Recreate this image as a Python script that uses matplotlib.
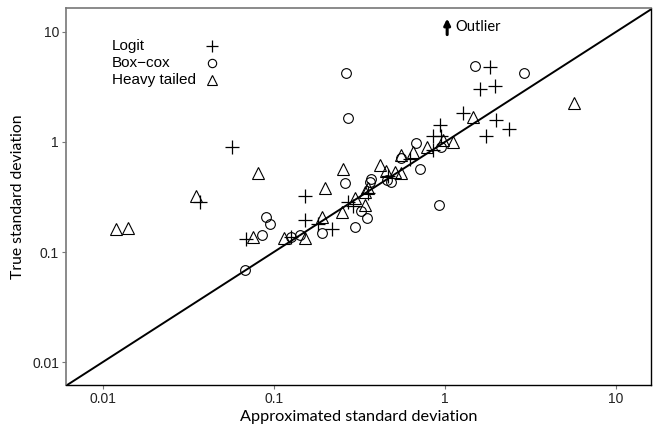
import matplotlib
matplotlib.use("Agg")
import matplotlib.pyplot as plt
import numpy as np

# approximated (x) and true (y) standard deviations
logit_x = [0.057, 0.037, 0.069, 0.153, 0.153, 0.18, 0.22, 0.27, 0.29, 0.126,
           0.355, 0.465, 0.625, 0.85, 0.935, 0.95, 0.85, 1.27, 1.83, 1.6,
           1.96, 2.0, 2.36, 1.73]
logit_y = [0.90, 0.285, 0.13, 0.32, 0.195, 0.18, 0.162, 0.285, 0.26, 0.137,
           0.345, 0.49, 0.70, 1.13, 1.43, 1.13, 0.85, 1.83, 4.8, 3.0,
           3.2, 1.58, 1.31, 1.13]

boxcox_x = [0.068, 0.085, 0.09, 0.095, 0.126, 0.143, 0.19, 0.26, 0.265, 0.27,
            0.325, 0.35, 0.30, 0.365, 0.37, 0.46, 0.485, 0.55, 0.68, 0.715,
            0.95, 0.92, 1.5, 2.9]
boxcox_y = [0.069, 0.143, 0.21, 0.18, 0.137, 0.143, 0.149, 0.42, 4.25, 1.65,
            0.236, 0.205, 0.169, 0.43, 0.46, 0.45, 0.43, 0.72, 0.98, 0.57,
            0.90, 0.27, 4.9, 4.25]

heavy_x = [0.012, 0.014, 0.035, 0.081, 0.076, 0.115, 0.153, 0.19, 0.20, 0.255,
           0.25, 0.34, 0.30, 0.355, 0.34, 0.42, 0.45, 0.51, 0.55, 0.555,
           0.65, 0.785, 0.97, 1.11, 1.46, 5.7]
heavy_y = [0.162, 0.165, 0.32, 0.52, 0.137, 0.134, 0.134, 0.21, 0.38, 0.57,
           0.23, 0.27, 0.31, 0.38, 0.35, 0.62, 0.545, 0.53, 0.52, 0.76,
           0.81, 0.90, 1.04, 1.0, 1.69, 2.26]

ticks = [0.01, 0.1, 1, 10]
tick_labels = ["0.01", "0.1", "1", "10"]
series_names = ["Logit", "Box\u2212cox", "Heavy tailed"]

fig = plt.figure(figsize=(6.53, 4.37), dpi=100)
ax = fig.add_axes([0.101, 0.119, 0.896, 0.863])

styles = [
    dict(marker="+", markersize=10, markeredgewidth=0.9),
    dict(marker="o", markersize=7, markeredgewidth=0.8, markerfacecolor="none"),
    dict(marker="^", markersize=9, markeredgewidth=0.8, markerfacecolor="none"),
]
data = [(logit_x, logit_y), (boxcox_x, boxcox_y), (heavy_x, heavy_y)]
for (xs, ys), st in zip(data, styles):
    ax.plot(xs, ys, linestyle="none", color="black", **st)

ax.set_xscale("log")
ax.set_yscale("log")
ax.set_xlim(0.0061, 16.0)
ax.set_ylim(0.0062, 16.5)
ax.axline((0.01, 0.01), (1, 1), color="black", linewidth=1.4, zorder=1)

ax.set_xticks(ticks)
ax.set_xticklabels(tick_labels)
ax.set_yticks(ticks)
ax.set_yticklabels(tick_labels)
ax.minorticks_off()
for lab in ax.get_xticklabels() + ax.get_yticklabels():
    lab.set_fontfamily("Liberation Sans")
    lab.set_fontsize(10)
    lab.set_color("#222222")
ax.tick_params(length=3, width=0.8, color="#777777", pad=2)

for side in ["left", "top"]:
    ax.spines[side].set_color("#777777")
    ax.spines[side].set_linewidth(1.2)
for side in ["bottom", "right"]:
    ax.spines[side].set_color("black")
    ax.spines[side].set_linewidth(1.0)

ax.set_xlabel("Approximated standard deviation", fontfamily="Lato",
              fontsize=11.7, labelpad=3)
ax.set_ylabel("True standard deviation", fontfamily="Lato",
              fontsize=11.3, labelpad=5)

ax.annotate("", xy=(1.03, 14.0), xytext=(1.03, 8.9),
            arrowprops=dict(arrowstyle="-|>", color="black", lw=2.2,
                            mutation_scale=9))
ax.text(1.15, 11.1, "Outlier", fontfamily="Lato", fontsize=10.5,
        va="center", ha="left")

# legend: left-aligned labels with the symbol to their right
leg_sizes = [9, 6, 7.5]
for i, (name, st, ms) in enumerate(zip(series_names, styles, leg_sizes)):
    yy = 0.899 - i * 0.045
    ax.text(0.079, yy, name, transform=ax.transAxes, fontfamily="Liberation Sans",
            fontsize=11, va="center", ha="left")
    st = dict(st, markersize=ms)
    ax.plot([0.25], [yy], transform=ax.transAxes, linestyle="none",
            color="black", clip_on=False, **st)

fig.savefig("out.png", dpi=100)
